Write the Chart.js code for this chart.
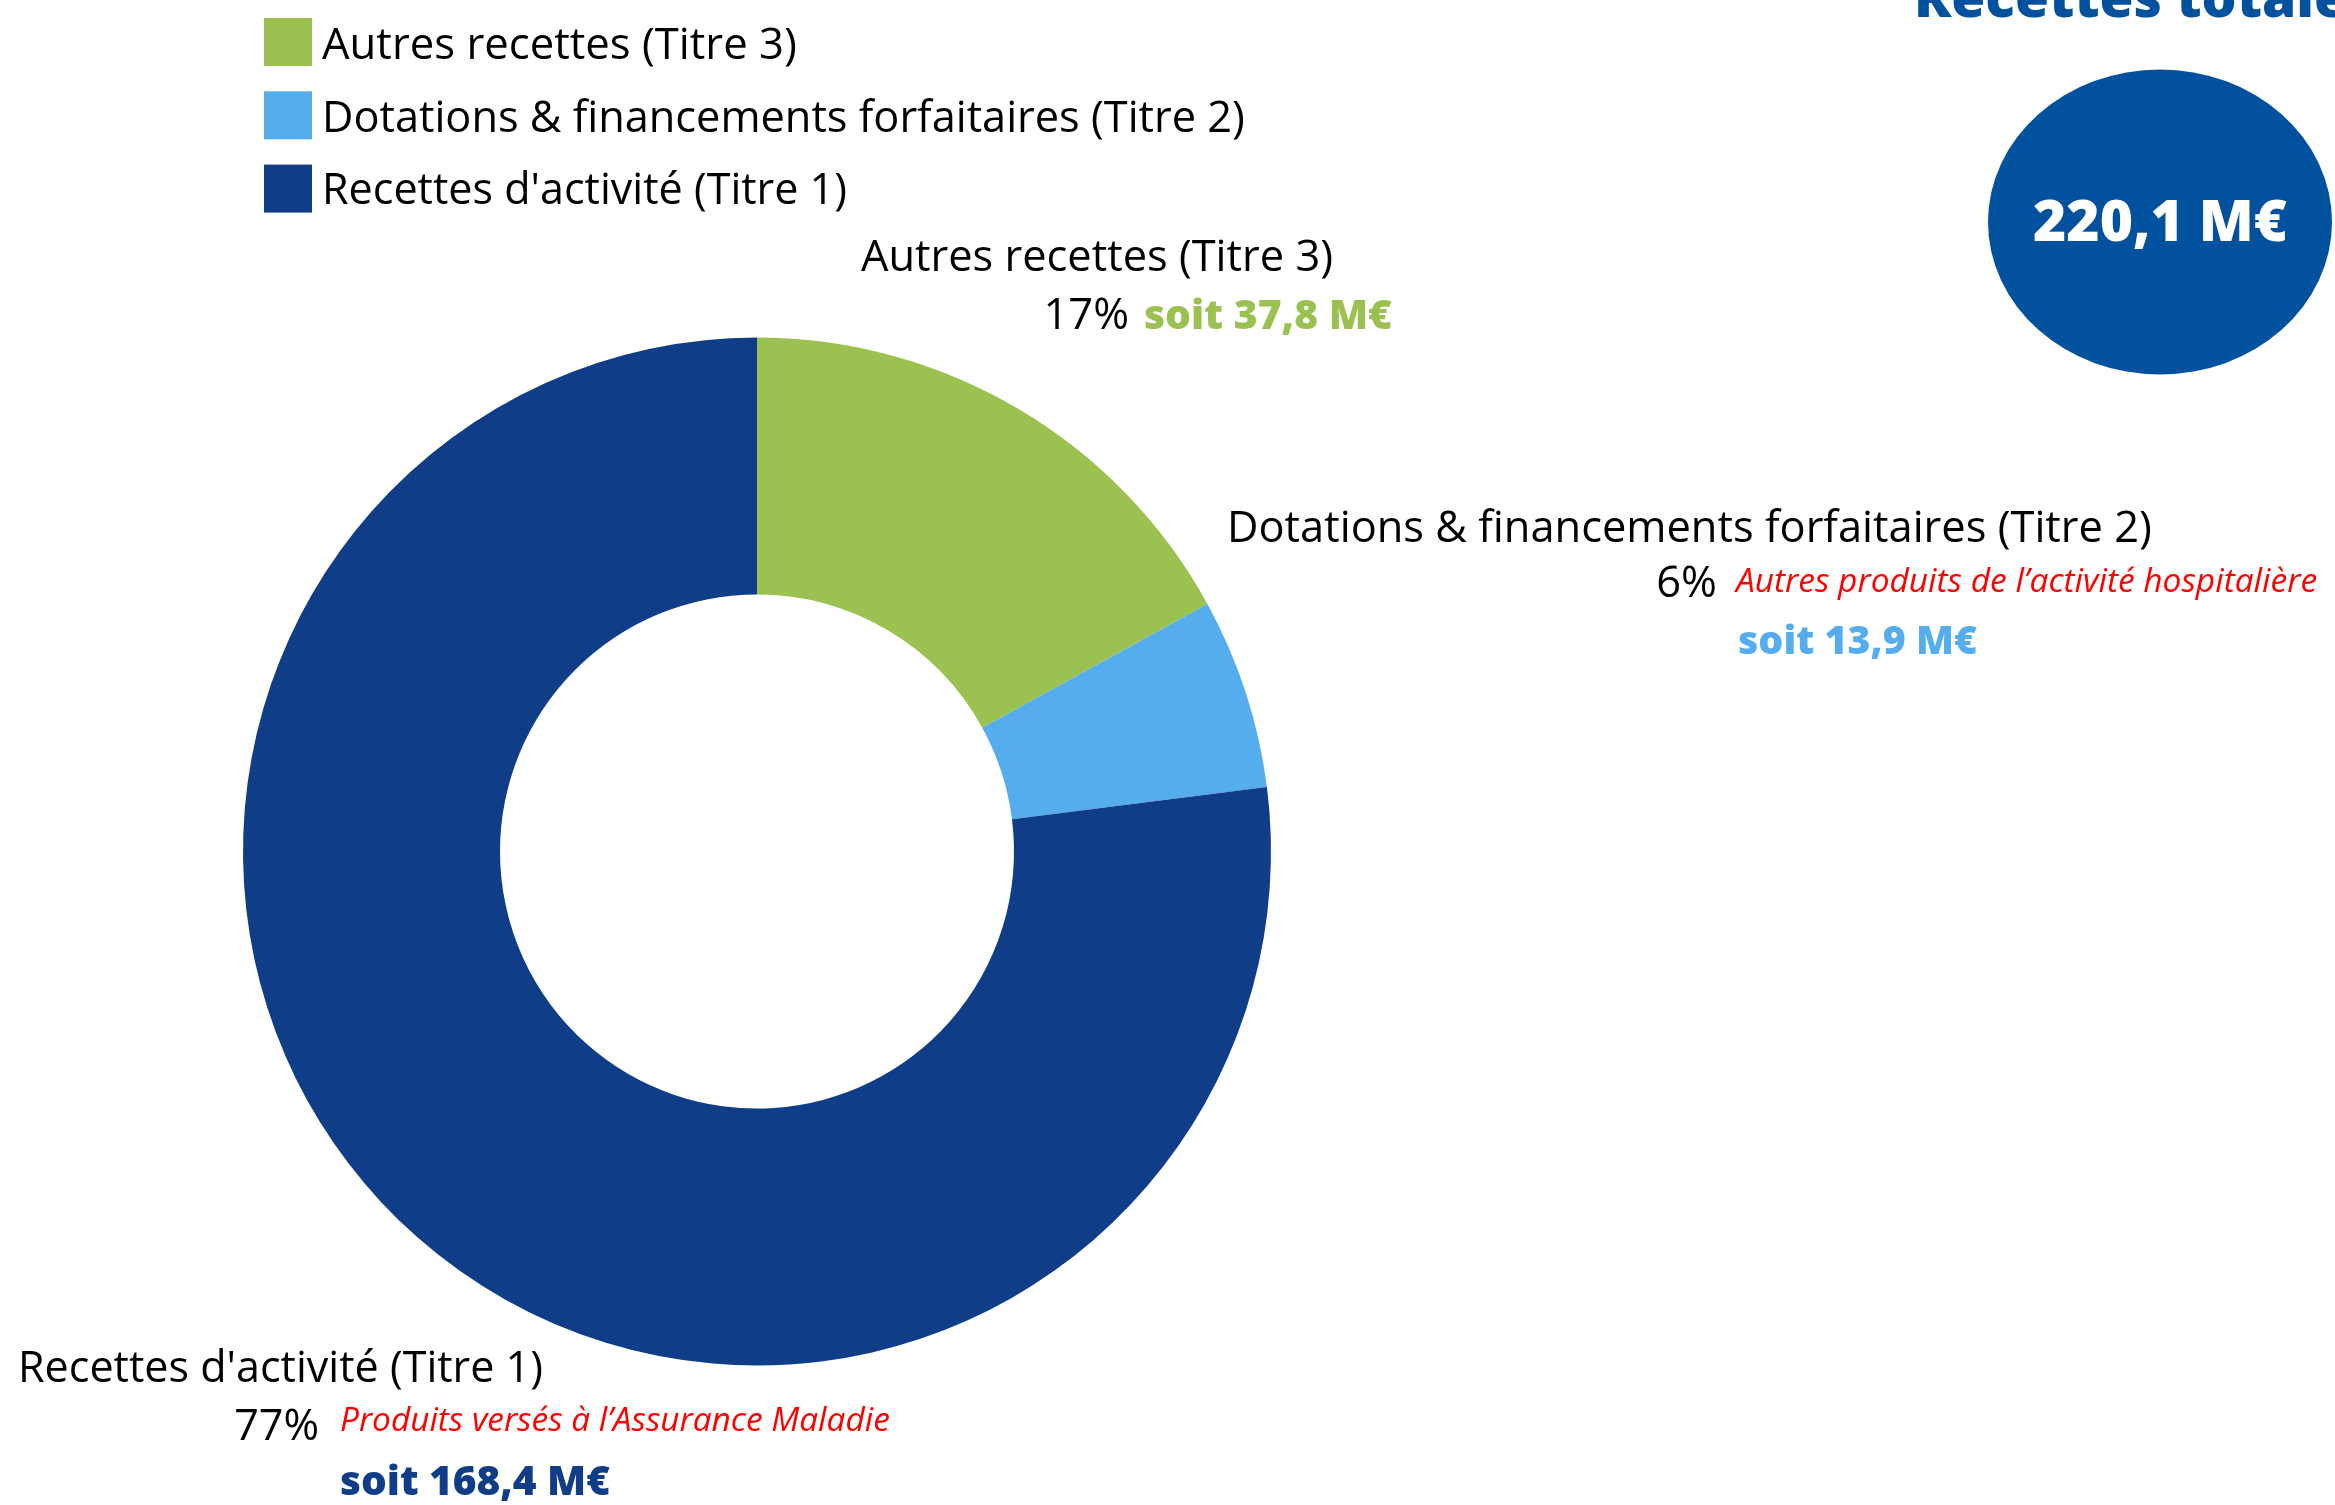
<!DOCTYPE html>
<html>
<head>
<meta charset="utf-8">
<script src="https://cdn.jsdelivr.net/npm/chart.js@4.4.1/dist/chart.umd.min.js"></script>
<style>
  html, body { margin: 0; padding: 0; background: #ffffff; }
  #wrap { width: 2335px; height: 1505px; position: relative; overflow: hidden; }
</style>
</head>
<body>
<div id="wrap"><canvas id="c" width="2335" height="1505"></canvas></div>
<script>
// ---- Data ----
const categories = ['Autres recettes (Titre 3)', 'Dotations & financements forfaitaires (Titre 2)', "Recettes d'activité (Titre 1)"];
const sharePercent = [17, 6, 77];
const percentLabels = ['17%', '6%', '77%'];
const amountLabels = ['soit 37,8 M€', 'soit 13,9 M€', 'soit 168,4 M€'];
const noteLabels = ['', 'Autres produits de l’activité hospitalière', 'Produits versés à l’Assurance Maladie'];
const sliceColors = ['#9BC250', '#56ADEE', '#0F3D87'];
const titleText = 'Recettes totales';
const totalText = '220,1 M€';

const FAMILY = '"Open Sans", "Noto Sans", sans-serif';

function fitSize(ctx, text, weight, style, targetW) {
  ctx.font = `${style} ${weight} 100px ${FAMILY}`;
  const w = ctx.measureText(text).width;
  return 100 * targetW / w;
}
function drawText(ctx, text, x, baseline, size, weight, style, color, align) {
  ctx.save();
  ctx.font = `${style} ${weight} ${size.toFixed(2)}px ${FAMILY}`;
  ctx.fillStyle = color;
  ctx.textAlign = align || 'left';
  ctx.textBaseline = 'alphabetic';
  ctx.fillText(text, x, baseline);
  ctx.restore();
}
function drawFit(ctx, text, x, baseline, targetW, weight, style, color) {
  const s = fitSize(ctx, text, weight, style, targetW);
  drawText(ctx, text, x, baseline, s, weight, style, color, 'left');
  return s;
}

// Label layout (positions only): title [x, baseline, width], pct [rightX, baseline], note/amount [x, baseline, width]
const labelLayout = [
  { title: [861, 271, 472], pct: [1129, 329], note: null, amount: [1144, 329, 248] },
  { title: [1227, 542, 925], pct: [1717, 597], note: [1736, 592, 581], amount: [1738, 654, 239] },
  { title: [18, 1382, 525], pct: [319, 1440], note: [340, 1431, 550], amount: [340, 1495, 270] }
];

const decorPlugin = {
  id: 'decor',
  afterDraw(chart) {
    const ctx = chart.ctx;
    const labels = chart.data.labels;
    const colors = chart.data.datasets[0].backgroundColor;

    // Custom legend (top-left)
    const legendW = [475, 923, 525];
    labels.forEach((lab, i) => {
      ctx.fillStyle = colors[i];
      ctx.fillRect(264, 18 + i * 73.3, 48, 48);
      drawFit(ctx, lab, 322, 59 + i * 72.5, legendW[i], 400, 'normal', '#000000');
    });

    // Data labels
    labels.forEach((lab, i) => {
      const L = labelLayout[i];
      const s = drawFit(ctx, lab, L.title[0], L.title[1], L.title[2], 400, 'normal', '#000000');
      drawText(ctx, percentLabels[i], L.pct[0], L.pct[1], s, 400, 'normal', '#000000', 'right');
      if (L.note && noteLabels[i]) {
        drawFit(ctx, noteLabels[i], L.note[0], L.note[1], L.note[2], 400, 'italic', '#FF0000');
      }
      drawFit(ctx, amountLabels[i], L.amount[0], L.amount[1], L.amount[2], 800, 'normal', colors[i]);
    });

    // Title (clipped at top-right)
    const ts = fitSize(ctx, 'Recettes', 800, 'normal', 248);
    drawText(ctx, titleText, 1914, 17, ts, 800, 'normal', '#02519E', 'left');

    // Total bubble
    ctx.save();
    ctx.fillStyle = '#02519E';
    ctx.beginPath();
    ctx.ellipse(2160, 222, 172, 152.5, 0, 0, Math.PI * 2);
    ctx.fill();
    ctx.restore();
    drawFit(ctx, totalText, 2033, 241, 254, 800, 'normal', '#FFFFFF');
  }
};

new Chart(document.getElementById('c'), {
  type: 'doughnut',
  data: {
    labels: categories,
    datasets: [{
      data: sharePercent,
      backgroundColor: sliceColors,
      borderWidth: 0,
      hoverOffset: 0,
      offset: 0
    }]
  },
  options: {
    responsive: false,
    animation: false,
    events: [],
    cutout: '50%',
    rotation: 0,
    layout: { padding: { left: 243, right: 1064, top: 337, bottom: 139 } },
    plugins: {
      legend: { display: false },
      tooltip: { enabled: false },
      title: { display: false }
    }
  },
  plugins: [decorPlugin]
});
</script>
</body>
</html>
